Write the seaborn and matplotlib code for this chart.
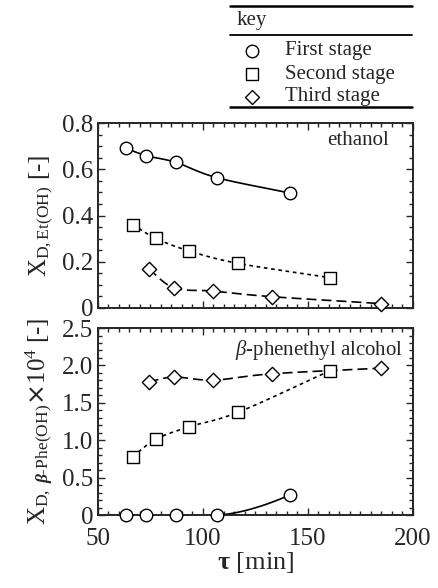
import numpy as np
import pandas as pd
import matplotlib
matplotlib.use("Agg")
import matplotlib.pyplot as plt
from matplotlib.ticker import MultipleLocator, FuncFormatter
from matplotlib.lines import Line2D
import seaborn as sns

# ---- data ----
stages = ["First stage", "Second stage", "Third stage"]
tau_first = [63.3, 72.9, 87.0, 106.5, 141.4]
tau_second = [66.5, 77.6, 93.3, 116.8, 160.5]
tau_third = [74.1, 86.3, 104.9, 132.7, 184.8]

eth_first = [0.691, 0.659, 0.630, 0.564, 0.497]
eth_second = [0.361, 0.301, 0.247, 0.193, 0.131]
eth_third = [0.169, 0.087, 0.073, 0.049, 0.019]

phe_first = [0.0, 0.0, 0.0, 0.0, 0.268]
phe_second = [0.781, 1.013, 1.179, 1.375, 1.929]
phe_third = [1.781, 1.844, 1.804, 1.888, 1.964]

xticks = [50, 100, 150, 200]

sns.set_style("ticks")
plt.rcParams["font.family"] = ["Liberation Serif", "DejaVu Serif"]
plt.rcParams["mathtext.fontset"] = "custom"
plt.rcParams["mathtext.rm"] = "Liberation Serif"
plt.rcParams["mathtext.it"] = "Liberation Serif:italic"
plt.rcParams["mathtext.bf"] = "Liberation Serif:bold"
try:
    plt.rcParams["mathtext.bfit"] = "Liberation Serif:italic:bold"
except Exception:
    pass


def catmull(x, y, n=30):
    x = np.asarray(x, float); y = np.asarray(y, float)
    P = np.column_stack([x, y])
    P = np.vstack([2 * P[0] - P[1], P, 2 * P[-1] - P[-2]])
    out = []
    for i in range(1, len(P) - 2):
        p0, p1, p2, p3 = P[i - 1], P[i], P[i + 1], P[i + 2]
        t = np.linspace(0, 1, n)[:, None]
        seg = 0.5 * ((2 * p1) + (-p0 + p2) * t + (2 * p0 - 5 * p1 + 4 * p2 - p3) * t ** 2
                     + (-p0 + 3 * p1 - 3 * p2 + p3) * t ** 3)
        out.append(seg)
    S = np.vstack(out)
    return S[:, 0], S[:, 1]


def onset_curve(x, y, n=40):
    # trend curve that rises from the last zero point to the final point
    x0, x1 = x[-2], x[-1]
    y1 = y[-1]
    t = np.linspace(0, 1, n)
    return x0 + (x1 - x0) * t, y1 * t ** 1.6


markers = {"First stage": "o", "Second stage": "s", "Third stage": "D"}
msize = {"First stage": 9, "Second stage": 9, "Third stage": 7.3}
dashes = {"First stage": (None, None), "Second stage": (2.2, 2.2), "Third stage": (6, 3)}

fig = plt.figure(figsize=(4.38, 5.88), dpi=100)
ax1 = fig.add_axes([0.2237, 0.4762, 0.719, 0.3146])
ax2 = fig.add_axes([0.2237, 0.1241, 0.719, 0.318])

def draw(ax, xs, ys, partial_first=False):
    for st, x, y in zip(stages, xs, ys):
        if st == "First stage" and partial_first:
            cx, cy = onset_curve(x, y)
        else:
            cx, cy = catmull(x, y)
        ln, = ax.plot(cx, cy, color="black", lw=1.2, zorder=2)
        if dashes[st][0] is not None:
            ln.set_dashes(dashes[st])
        df = pd.DataFrame({"tau": x, "val": y})
        sns.scatterplot(data=df, x="tau", y="val", ax=ax, marker=markers[st],
                        s=msize[st] ** 2, facecolor="white", edgecolor="black",
                        linewidth=1.0, zorder=3, legend=False, clip_on=False)

draw(ax1, [tau_first, tau_second, tau_third], [eth_first, eth_second, eth_third])
draw(ax2, [tau_first, tau_second, tau_third], [phe_first, phe_second, phe_third], partial_first=True)

fmt = FuncFormatter(lambda v, p: "0" if abs(v) < 1e-9 else f"{v:.1f}")
for ax in (ax1, ax2):
    ax.set_xlim(50, 200)
    ax.xaxis.set_major_locator(MultipleLocator(50))
    ax.xaxis.set_minor_locator(MultipleLocator(5))
    ax.tick_params(which="both", direction="in", top=True, right=True, labelsize=18, width=1.0)
    ax.tick_params(which="major", length=5)
    ax.tick_params(which="minor", length=3)
    ax.tick_params(axis="x", pad=9)
    for s in ax.spines.values():
        s.set_linewidth(1.4)
    ax.yaxis.set_major_formatter(fmt)
    ax.set_xlabel("")

ax1.set_ylim(0, 0.8)
ax1.yaxis.set_major_locator(MultipleLocator(0.2))
ax1.yaxis.set_minor_locator(MultipleLocator(0.05))
ax1.set_xticklabels([])
ax1.set_ylabel(r"X$_{\mathrm{D,Et(OH)}}$ [-]", fontsize=18, labelpad=5)
ax1.text(0.925, 0.905, "ethanol", transform=ax1.transAxes, ha="right", va="center", fontsize=15)

ax2.set_ylim(0, 2.5)
ax2.yaxis.set_major_locator(MultipleLocator(0.5))
ax2.yaxis.set_minor_locator(MultipleLocator(0.1))
ax2.set_xticks(xticks)
ax2.set_xticklabels([str(v) for v in xticks])
ax2.set_ylabel(r"X$_{\mathrm{D,}\ \boldsymbol{\beta}\mathrm{\text{-}Phe(OH)}}$$\mathsf{\times}$10$^4$ [-]",
               fontsize=18, labelpad=5)
ax2.text(0.97, 0.88, r"$\it{\beta}$-phenethyl alcohol", transform=ax2.transAxes,
         ha="right", va="center", fontsize=15)
ax2.set_xlabel(r"$\mathbf{\tau}$ [min]", fontsize=19, labelpad=0)

# ---- key table ----
W, H = 438.0, 588.0
def fx(px): return px / W
def fy(py): return 1 - py / H
fig.add_artist(Line2D([fx(230), fx(412)], [fy(6), fy(6)], color="black", lw=1.8))
fig.add_artist(Line2D([fx(230), fx(412)], [fy(35), fy(35)], color="black", lw=1.3))
fig.add_artist(Line2D([fx(230), fx(412)], [fy(107), fy(107)], color="black", lw=1.8))
fig.text(fx(237), fy(21), "key", fontsize=15, ha="left", va="center")
rows_y = [51, 74, 97]
for st, ry in zip(stages, rows_y):
    fig.add_artist(Line2D([fx(252)], [fy(ry)], marker=markers[st], markersize=msize[st] * 1.0,
                          markerfacecolor="white", markeredgecolor="black", markeredgewidth=1.0, lw=0))
    fig.text(fx(285), fy(ry), st, fontsize=15, ha="left", va="center")

fig.savefig("out.png", dpi=100)
